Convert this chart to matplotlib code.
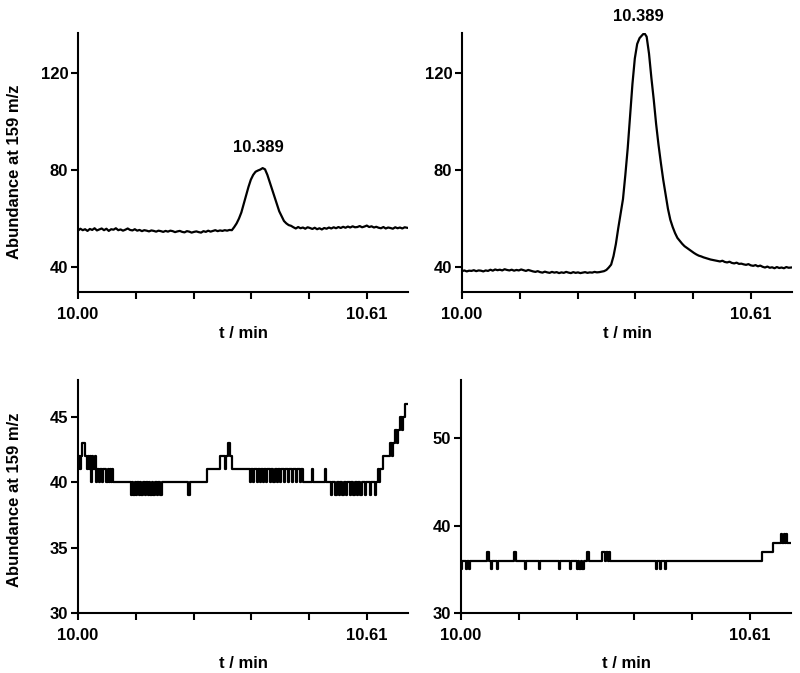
import numpy as np
import matplotlib
matplotlib.use('Agg')
import matplotlib.pyplot as plt

plt.rcParams['font.family'] = ['Liberation Sans', 'DejaVu Sans']
plt.rcParams['font.weight'] = 'bold'

# top panels: abundance sampled every 0.005 min from 10.000
t0 = 10.0
t_step = 0.005
top_left = [
    55.0, 55.8, 55.2, 55.6, 54.9, 55.7, 55.3, 56.0, 55.1, 55.5,
    55.9, 55.2, 55.8, 54.9, 55.6, 55.4, 56.0, 55.2, 55.5, 55.0,
    55.4, 55.9, 55.3, 55.1, 55.6, 55.0, 55.3, 54.8, 55.2, 55.0,
    54.7, 55.1, 54.9, 54.6, 55.0, 54.8, 54.5, 54.9, 54.6, 55.0,
    54.8, 54.4, 54.7, 54.9, 54.5, 54.3, 54.8, 54.6, 54.2, 54.5,
    54.7, 54.4, 54.2, 54.8, 54.5, 55.0, 54.6, 54.9, 55.2, 54.8,
    55.1, 54.9, 55.2, 55.0, 55.3, 55.2,
    56.5, 58.0, 60.0, 62.5, 66.0, 69.5, 73.0, 76.0, 78.0, 79.3,
    79.8, 80.2, 80.8, 80.3, 78.0, 75.0, 72.0, 69.0, 66.0, 63.0,
    61.0, 59.0, 58.0, 57.3, 57.0,
    56.4, 55.9, 56.5, 56.0, 56.3, 55.8, 56.4, 56.1, 55.7, 56.2,
    55.6, 56.0, 55.5, 56.1, 55.8, 56.3, 55.9, 56.4, 56.0, 56.5,
    56.1, 56.6, 56.2, 56.7, 56.3, 56.8, 56.4, 56.5, 56.9, 56.4,
    56.7, 57.1, 56.5, 56.8, 56.3, 56.6, 56.2, 56.0, 56.5, 55.9,
    56.3, 56.1, 55.8, 56.4, 56.0, 56.3, 55.9, 56.4, 56.2,
]
top_right = [
    38.3, 38.6, 38.2, 38.5, 38.4, 38.7, 38.3, 38.6, 38.5, 38.2,
    38.6, 38.4, 38.9, 38.5, 39.0, 38.7, 38.9, 38.6, 39.1, 38.8,
    38.6, 38.9, 38.5, 38.8, 38.6, 39.0, 38.7, 38.4, 38.8, 38.5,
    38.2, 38.0, 38.3, 37.9, 37.7, 38.1, 37.8, 37.6, 38.0, 37.7,
    37.9, 37.5, 37.8, 37.6, 38.0, 37.7, 37.5, 37.9, 37.6, 37.8,
    37.5, 37.7, 37.9, 37.6, 37.8, 37.7, 38.0, 37.8, 37.9, 38.1,
    38.3,
    38.8, 39.8, 41.0, 44.5, 49.5, 56.0, 62.0, 68.0, 78.0, 89.0,
    102.0, 115.5, 126.0, 132.0, 134.4, 135.5, 136.5, 135.0, 128.0, 118.0,
    109.0, 99.0, 90.5, 83.0, 76.0, 70.0, 64.0, 59.5, 56.5, 54.0,
    52.0, 50.8, 49.6, 48.6, 47.9, 47.2, 46.5, 45.8, 45.2, 44.7,
    44.4, 44.0, 43.7, 43.4, 43.1, 42.9, 42.7, 42.5,
    42.3, 42.6, 42.1, 41.9, 42.2, 41.7, 41.5, 41.8, 41.3, 41.4,
    41.1, 40.9, 41.2, 40.7, 40.5, 40.8, 40.3, 40.6, 40.1, 39.8,
    40.2, 39.7, 39.9, 39.5, 40.0, 39.6, 39.8, 39.5, 40.0, 39.7, 39.8,
]

# bottom panels: integer counts as (scans in run, level), one scan = 0.61/289 min
scan_dt = 0.61 / 289
bl_runs = [1, 1, 1, 1, 3, 2, 1, 1, 1, 1, 1, 1, 2, 1, 1, 2, 1, 2, 1, 3,
           2, 1, 1, 1, 1, 1, 18, 1, 1, 2, 1, 1, 2, 1, 1, 2, 2, 1, 2, 1,
           1, 2, 1, 2, 2, 1, 2, 2, 26, 2, 17, 13, 5, 1, 2, 2, 2, 18, 1, 2,
           1, 3, 1, 2, 1, 2, 1, 2, 1, 3, 1, 2, 2, 2, 1, 2, 1, 3, 1, 3,
           1, 3, 1, 3, 1, 3, 1, 2, 9, 1, 12, 1, 5, 1, 3, 2, 2, 1, 2, 2,
           2, 1, 3, 1, 2, 2, 2, 1, 2, 2, 3, 1, 4, 1, 4, 1, 2, 1, 1, 3,
           7, 2, 1, 2, 2, 1, 2, 2, 1, 2, 3]
bl_levels = [41, 42, 41, 42, 43, 42, 41, 42, 41, 42, 40, 42, 41, 42, 40, 41, 40, 41, 40, 41,
             40, 41, 40, 41, 40, 41, 40, 39, 40, 39, 40, 39, 40, 39, 40, 39, 40, 39, 40, 39,
             40, 39, 40, 39, 40, 39, 40, 39, 40, 39, 40, 41, 42, 41, 42, 43, 42, 41, 40, 41,
             40, 41, 40, 41, 40, 41, 40, 41, 40, 41, 40, 41, 40, 41, 40, 41, 40, 41, 40, 41,
             40, 41, 40, 41, 40, 41, 40, 41, 40, 41, 40, 41, 40, 39, 40, 39, 40, 39, 40, 39,
             40, 39, 40, 39, 40, 39, 40, 39, 40, 39, 40, 39, 40, 39, 40, 39, 40, 41, 40, 41,
             42, 43, 42, 43, 44, 43, 44, 45, 44, 45, 46]
br_runs = [1, 4, 1, 2, 1, 17, 2, 2, 1, 5, 1, 16, 2, 9, 1, 13, 1, 19, 1, 10,
           1, 6, 1, 1, 2, 1, 2, 3, 2, 13, 3, 1, 2, 1, 1, 46, 1, 3, 1, 4,
           1, 96, 11, 8, 1, 2, 1, 1, 1, 5]
br_levels = [35, 36, 35, 36, 35, 36, 37, 36, 35, 36, 35, 36, 37, 36, 35, 36, 35, 36, 35, 36,
             35, 36, 35, 36, 35, 36, 35, 36, 37, 36, 37, 36, 37, 36, 37, 36, 35, 36, 35, 36,
             35, 36, 37, 38, 39, 38, 39, 38, 39, 38]

x_ticks = [10.0, 10.122, 10.244, 10.366, 10.488, 10.61]
x_ticklabels = ['10.00', '', '', '', '', '10.61']
peak_label = '10.389'
y_label = 'Abundance at 159 m/z'

fig = plt.figure(figsize=(8, 6.73), dpi=100)
ax1 = fig.add_axes([0.0975, 0.5661, 0.4125, 0.3848])
ax2 = fig.add_axes([0.5775, 0.5661, 0.4125, 0.3848])
ax3 = fig.add_axes([0.0975, 0.0892, 0.4125, 0.3462])
ax4 = fig.add_axes([0.57625, 0.0892, 0.4125, 0.3462])


def style(ax, ylim, yticks, labelpad):
    for side in ['top', 'right']:
        ax.spines[side].set_visible(False)
    for side in ['left', 'bottom']:
        ax.spines[side].set_linewidth(1.5)
    ax.set_xlim(10.0, 10.697)
    ax.set_ylim(*ylim)
    ax.set_xticks(x_ticks)
    ax.set_xticklabels(x_ticklabels)
    ax.set_yticks(yticks)
    ax.tick_params(direction='out', length=5, width=1.5, labelsize=12)
    ax.tick_params(axis='x', pad=6)
    ax.tick_params(axis='y', pad=2)
    ax.set_xlabel('t / min', fontsize=12, fontweight='bold', labelpad=labelpad)


for ax, vals in [(ax1, top_left), (ax2, top_right)]:
    t = t0 + t_step * np.arange(len(vals))
    ax.plot(t, vals, color='black', lw=1.6)
    style(ax, (29.7, 136.5), [40, 80, 120], 3)

for ax, runs, levels in [(ax3, bl_runs, bl_levels), (ax4, br_runs, br_levels)]:
    edges = t0 + scan_dt * np.concatenate([[0], np.cumsum(runs)])
    ax.step(edges, levels + [levels[-1]], where='post', color='black', lw=1.6)

style(ax3, (30, 47.8), [30, 35, 40, 45], 9)
style(ax4, (30, 56.7), [30, 40, 50], 9)

ax1.text(10.380, 89.1, peak_label, ha='center', va='center', fontsize=12, fontweight='bold')
ax2.text(10.373, 143.5, peak_label, ha='center', va='center', fontsize=12,
         fontweight='bold', clip_on=False)

for ax, yc in [(ax1, 0.463), (ax3, 0.485)]:
    ax.set_ylabel(y_label, fontsize=12, fontweight='bold')
    ax.yaxis.set_label_coords(-0.17, yc)

fig.savefig('out.png', dpi=100, facecolor='white')
